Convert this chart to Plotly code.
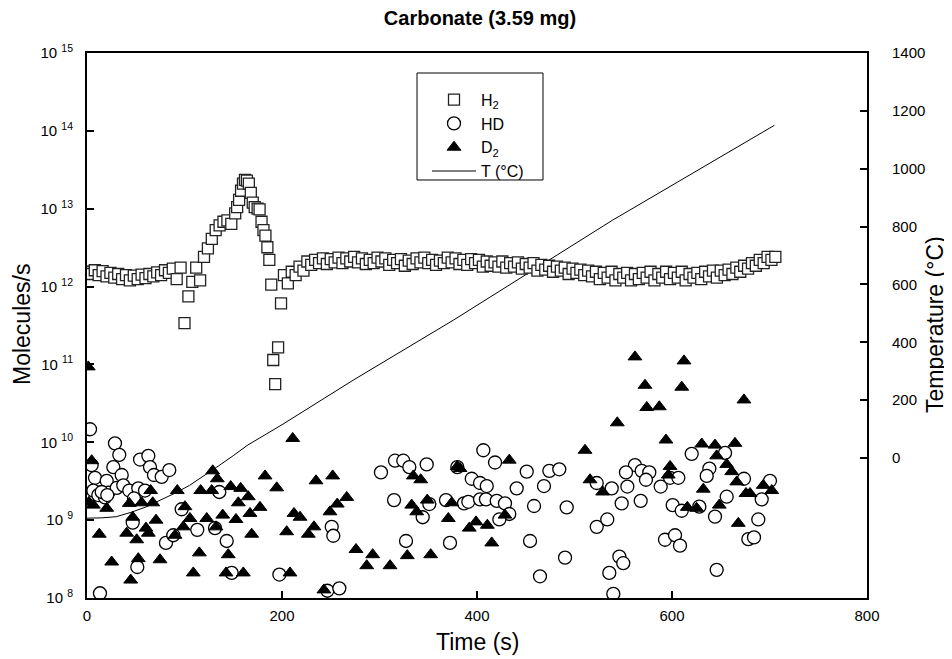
import plotly.graph_objects as go

# ---------------- data ----------------
# H2 (units of 1e12 molecules/s)
h2_time = [0, 4, 8, 12, 16, 20, 24, 28, 32, 36, 40, 44, 48, 52, 56, 60, 64, 68, 72, 76, 80, 84, 88, 92, 96,
           100, 104, 108, 112, 116,
           120, 124, 128, 132, 136, 140, 144, 148, 152, 154, 156, 158, 160, 162, 164, 166, 168, 170, 172,
           175, 177, 179, 181, 183, 185, 187, 189, 191, 193, 196, 199,
           202, 206, 210, 214, 218, 222, 226,
           230, 234, 238, 242, 246, 250, 254, 258, 262, 266,
           270, 274, 278, 282, 286, 290, 294, 298, 302, 306,
           310, 314, 318, 322, 326, 330, 334, 338, 342, 346,
           350, 354, 358, 362, 366, 370, 374, 378, 382, 386,
           390, 394, 398, 402, 406, 410, 414, 418, 422, 426,
           430, 434, 438, 442, 446, 450, 454, 458, 462, 466,
           470, 474, 478, 482, 486, 490, 494, 498, 502, 506,
           510, 514, 518, 522, 526, 530, 534, 538, 542, 546,
           550, 554, 558, 562, 566, 570, 574, 578, 582, 586,
           590, 594, 598, 602, 606, 610, 614, 618, 622, 626,
           630, 634, 638, 642, 646, 650, 654, 658, 662, 666,
           670, 674, 678, 682, 686, 690, 694, 698, 702, 706]
h2_e12 = [1.55, 1.45, 1.62, 1.40, 1.58, 1.35, 1.50, 1.30, 1.45, 1.25, 1.40, 1.20, 1.38, 1.25, 1.42, 1.28,
          1.45, 1.35, 1.52, 1.40, 1.62, 1.50, 1.70, 1.25, 1.75,
          0.34, 0.75, 1.15, 1.75, 1.20,
          2.4, 3.1, 4.1, 5.3, 6.1, 6.8, 7.1, 6.4, 8.7, 10.5, 13, 17, 21, 23.5, 23, 21, 16, 12, 10.5,
          10, 9.8, 6.8, 5.3, 4.5, 3.2, 2.2, 1.06, 0.114, 0.056, 0.166, 0.61,
          1.4, 1.1, 1.55, 1.4, 1.8, 1.6, 2.1,
          1.9, 2.2, 2.0, 2.3, 1.95, 2.25, 2.05, 2.35, 2.0, 2.3,
          2.1, 2.4, 2.05, 2.3, 1.95, 2.2, 2.0, 2.35, 2.1, 2.3,
          1.9, 2.2, 2.0, 2.25, 1.85, 2.15, 1.95, 2.3, 2.05, 2.35,
          2.0, 2.2, 1.9, 2.15, 2.0, 2.35, 2.05, 2.3, 1.95, 2.2,
          1.9, 2.25, 2.0, 2.2, 1.8, 2.1, 1.85, 2.05, 1.8, 2.1,
          1.75, 2.0, 1.8, 2.05, 1.7, 1.95, 1.75, 2.0, 1.6, 1.9,
          1.65, 1.85, 1.55, 1.8, 1.6, 1.75, 1.45, 1.7, 1.5, 1.65,
          1.4, 1.6, 1.35, 1.55, 1.25, 1.5, 1.3, 1.55, 1.2, 1.45,
          1.3, 1.5, 1.2, 1.45, 1.25, 1.5, 1.3, 1.55, 1.2, 1.45,
          1.3, 1.55, 1.25, 1.5, 1.3, 1.55, 1.2, 1.45, 1.3, 1.5,
          1.25, 1.55, 1.35, 1.6, 1.3, 1.6, 1.4, 1.65, 1.45, 1.75,
          1.55, 1.85, 1.7, 2.0, 1.85, 2.2, 2.0, 2.4, 2.2, 2.4]

# HD (molecules/s)
hd_time = [3.1, 4.8, 8.2, 6.5, 11.6, 20.2, 21.8, 18.5, 28.7, 33.1, 27, 35.6, 30.5, 37.2, 43.4, 54.4,
           62.9, 64.6, 68.7, 76.6, 84.4, 52.6, 59.5, 48.2, 15.1, 20.8, 46.9, 51.6, 13.3, 97.1, 81, 88.5,
           113.1, 131.3, 135.7, 143.3, 148.4, 197.3, 251, 252.6, 246.5, 258.8, 301.5,
           315.9, 324.4, 330.6, 348.4, 314.9, 327.2, 351.1, 344.3, 368.2, 372.3, 386.7, 391.1, 403.1,
           409.2, 420.2, 428.7, 433.1, 422.9, 394.6, 403.1, 410, 406.5, 418.5, 379.8, 440.7, 451,
           458.5, 468.7, 474.2, 484.4, 454.4, 464.6, 492, 490.3, 522.8, 533.6, 535.7, 539.8, 522.8, 538.2,
           620.2, 654.4, 638.3, 635.6, 562, 552.8, 568.9, 576.7, 573.3, 554.2, 548.4, 567.9, 588.4,
           598, 606.5, 600.7, 610, 628, 644.1, 656.1, 673.8, 700.5, 692, 688.5, 678.3, 684.1, 592.8,
           603.1, 608.2, 546, 550, 645.8]
hd_value = [1.47e10, 5.1e9, 3.5e9, 2.4e9, 2.1e9, 3.2e9, 2.25e9, 1.96e9, 9.7e9, 6.9e9, 4.8e9, 3.8e9,
            2.6e9, 2.8e9, 2.4e9, 6.0e9, 6.7e9, 4.8e9, 3.8e9, 3.6e9, 4.4e9, 2.56e9, 2.4e9, 1.9e9, 2.3e9,
            2.1e9, 9.3e8, 2.5e8, 1.15e8, 1.38e9, 5.1e8, 6.4e8, 7.5e8, 7.9e8, 2.3e9, 5.4e8, 2.1e8, 2.0e8,
            8.2e8, 6.3e8, 1.24e8, 1.33e8, 4.1e9,
            5.8e9, 5.8e9, 4.8e9, 5.2e9, 1.81e9, 5.4e8, 1.61e9, 1.09e9, 1.81e9, 5.1e8, 1.64e9, 1.72e9,
            1.85e9, 1.85e9, 1.77e9, 1.64e9, 1.2e9, 1.02e9, 3.4e9, 3.0e9, 2.74e9, 7.9e9, 5.5e9, 4.8e9,
            2.56e9, 4.2e9, 1.52e9, 2.74e9, 4.3e9, 4.5e9, 5.4e8, 1.9e8, 1.46e9, 3.3e8, 8.2e8, 1.02e9,
            2.1e8, 1.13e8, 3.0e9, 2.56e9,
            7.1e9, 7.3e9, 4.6e9, 3.7e9, 5.1e9, 4.1e9, 4.3e9, 4.1e9, 3.3e9, 2.7e9, 1.64e9, 1.77e9, 2.7e9,
            3.5e9, 3.5e9, 1.56e9, 1.32e9, 1.49e9, 1.11e9, 2.0e9, 3.4e9, 3.2e9, 1.85e9, 1.02e9, 5.7e8,
            6.0e8, 5.6e8, 6.4e8, 4.7e8, 3.4e8, 2.8e8, 2.3e8]

# D2 (molecules/s)
d2_time = [1.3, 2, 4.8, 6.5, 20.2, 12.6, 25.3, 43.4, 40.7, 46.9, 51, 52.6, 44.8, 56.1, 60.5, 62.9, 65.3,
           67.4, 70.8, 74.9, 92.6, 100.5, 105.6, 98.8, 90.3, 109, 115.2, 116.6, 122.8, 128.9, 133.6,
           127.9, 132.3, 139.2, 144.9, 142.6, 147.4, 152.8, 155.2, 157.6, 160.3, 165.4, 167.2, 168.9,
           177.4, 182.6, 194.6, 204.8, 208.2, 211, 212.3, 218.5, 227, 232.8, 234.9, 243, 249.2, 252,
           256.7, 266.4, 275.9, 286.9, 293, 310.8, 328.5, 352.5, 334.7, 342.3, 333, 338.2, 349, 370.6,
           374.1, 379.8, 382.6, 392.1, 399, 410.6, 415.1, 428.7, 433.1, 510.8, 515.9, 528.9, 543.9,
           562, 612.3, 572.3, 610, 574.1, 587, 673.8, 593.8, 630.5, 644.1, 664.6, 645.8, 656.1, 598,
           596.2, 661.2, 666.4, 632.1, 693.6, 702.3, 675.9, 680, 648.5, 615.7, 625.3, 668]
d2_value = [9.3e10, 1.7e9, 5.8e9, 1.56e9, 1.42e9, 6.6e8, 2.9e8, 1.64e9, 6.8e8, 1.09e9, 5.6e8, 3.2e8,
            1.7e8, 1.67e9, 7.9e8, 6.8e8, 2.4e9, 1.67e9, 1.0e9, 3.1e8, 2.4e9, 1.49e9, 1.05e9, 8.2e8,
            6.4e8, 2.1e8, 3.8e8, 2.4e9, 1.05e9, 4.3e9, 3.4e9, 2.4e9, 8.2e8, 1.16e9, 3.6e8, 2.1e8,
            2.7e9, 1.02e9, 1.67e9, 2.56e9, 2.1e8, 2.0e9, 1.22e9, 6.6e8, 1.46e9, 3.7e9, 2.6e9, 7.1e8,
            2.1e8, 1.12e10, 1.22e9, 1.09e9, 6.6e8, 8.2e8, 3.2e9, 1.27e8, 1.28e9, 3.7e9, 1.61e9, 1.96e9,
            4.2e8, 2.6e8, 3.6e8, 2.6e8, 3.5e8, 3.6e8, 3.7e9, 3.3e9, 1.56e9, 1.28e9, 1.81e9, 1.05e9,
            1.67e9, 4.9e9, 4.6e9, 7.9e8, 9.5e8, 8.6e8, 5.1e8, 1.16e9, 5.9e9, 7.9e9, 3.3e9, 2.3e9,
            1.78e10, 1.25e11, 1.11e11, 5.4e10, 5.1e10, 2.8e10, 2.86e10, 3.5e10, 1.07e10, 9.5e9, 9.2e9,
            9.7e9, 6.7e9, 5.2e9, 4.9e9, 3.8e9, 4.2e9, 3.1e9, 2.5e9, 2.8e9, 2.4e9, 2.2e9, 2.2e9, 1.56e9,
            1.46e9, 1.42e9, 9.1e8]

# Temperature (deg C)
temp_time = [0, 15, 30, 45, 60, 75, 90, 105, 120, 135, 150, 165, 200, 273, 376, 539, 705]
temp_c = [-208, -207, -203, -188, -170, -146, -122, -95, -62, -27, 8, 45, 115, 269, 477, 822, 1150]

mol_ticks = [1e8, 1e9, 1e10, 1e11, 1e12, 1e13, 1e14, 1e15]
mol_ticktext = ["10 <sup>8</sup>", "10 <sup>9</sup>", "10 <sup>10</sup>", "10 <sup>11</sup>",
                "10 <sup>12</sup>", "10 <sup>13</sup>", "10 <sup>14</sup>", "10 <sup>15</sup>"]
temp_ticks = [0, 200, 400, 600, 800, 1000, 1200, 1400]
time_ticks = [0, 200, 400, 600, 800]

# ---------------- figure ----------------
FONT = "Arial, 'Liberation Sans', Helvetica, sans-serif"

fig = go.Figure()

fig.add_trace(go.Scatter(
    x=temp_time, y=temp_c, mode="lines", name="T (°C)", yaxis="y",
    line=dict(color="black", width=1), legendrank=4, legendgroup="d"))

fig.add_trace(go.Scatter(
    x=h2_time, y=[v * 1e12 for v in h2_e12], mode="markers", name="H<sub>2</sub>", yaxis="y2",
    marker=dict(symbol="square", size=11, color="white", line=dict(color="#222222", width=1.3)),
    legendrank=1, legendgroup="a"))

fig.add_trace(go.Scatter(
    x=hd_time, y=hd_value, mode="markers", name="HD", yaxis="y2",
    marker=dict(symbol="circle", size=13, color="white", line=dict(color="black", width=1.3)),
    legendrank=2, legendgroup="b"))

fig.add_trace(go.Scatter(
    x=d2_time, y=d2_value, mode="markers", name="D<sub>2</sub>", yaxis="y2",
    marker=dict(symbol="triangle-up", size=12, color="black", line=dict(color="black", width=1)),
    legendrank=3, legendgroup="c"))

axis_common = dict(showgrid=False, zeroline=False, showline=True, linecolor="black", linewidth=2,
                   ticks="inside", ticklen=7, tickwidth=1.5, tickcolor="black", automargin=False,
                   tickfont=dict(family=FONT, size=15, color="black"))

title_font = dict(family=FONT, size=23, color="black")

# page is shown with an 8 px body margin, so the figure is 944x651
fig.update_layout(
    width=944, height=651,
    margin=dict(l=79, r=85, t=45, b=61, autoexpand=False),
    paper_bgcolor="white", plot_bgcolor="white",
    font=dict(family=FONT, color="black"),
    title=dict(text="<b>Carbonate (3.59 mg)</b>", x=0.5, xanchor="center", y=0.985, yanchor="middle",
               automargin=False, font=dict(family=FONT, size=20, color="black")),
    xaxis=dict(range=[0, 800], tickmode="array", tickvals=time_ticks, mirror=True,
               ticklabelstandoff=3, **axis_common),
    yaxis=dict(range=[-484, 1400], side="right", tickmode="array", tickvals=temp_ticks,
               ticklabelstandoff=20, **axis_common),
    yaxis2=dict(type="log", range=[8, 15], overlaying="y", side="left", tickmode="array",
                tickvals=mol_ticks, ticktext=mol_ticktext,
                ticklabelstandoff=9, **axis_common),
    showlegend=True,
    legend=dict(x=0.4359, y=0.9455, xanchor="left", yanchor="top", bgcolor="rgba(0,0,0,0)",
                borderwidth=0, traceorder="grouped", tracegroupgap=0,
                font=dict(family=FONT, size=16, color="black"), itemwidth=44),
    shapes=[dict(type="rect", xref="paper", yref="paper", x0=0.4231, x1=0.5846, y0=0.767, y1=0.9633,
                 line=dict(color="black", width=1), fillcolor="white", layer="above")],
    annotations=[
        dict(text="Time (s)", xref="paper", yref="paper", x=0.5, y=-0.081, xanchor="center",
             yanchor="middle", showarrow=False, font=title_font),
        dict(text="Molecules/s", xref="paper", yref="paper", x=-0.0833, y=0.501, xanchor="center",
             yanchor="middle", textangle=-90, showarrow=False, font=title_font),
        dict(text="Temperature (°C)", xref="paper", yref="paper", x=1.0872, y=0.501, xanchor="center",
             yanchor="middle", textangle=-90, showarrow=False, font=title_font),
    ],
)

fig.write_html("out.html")
